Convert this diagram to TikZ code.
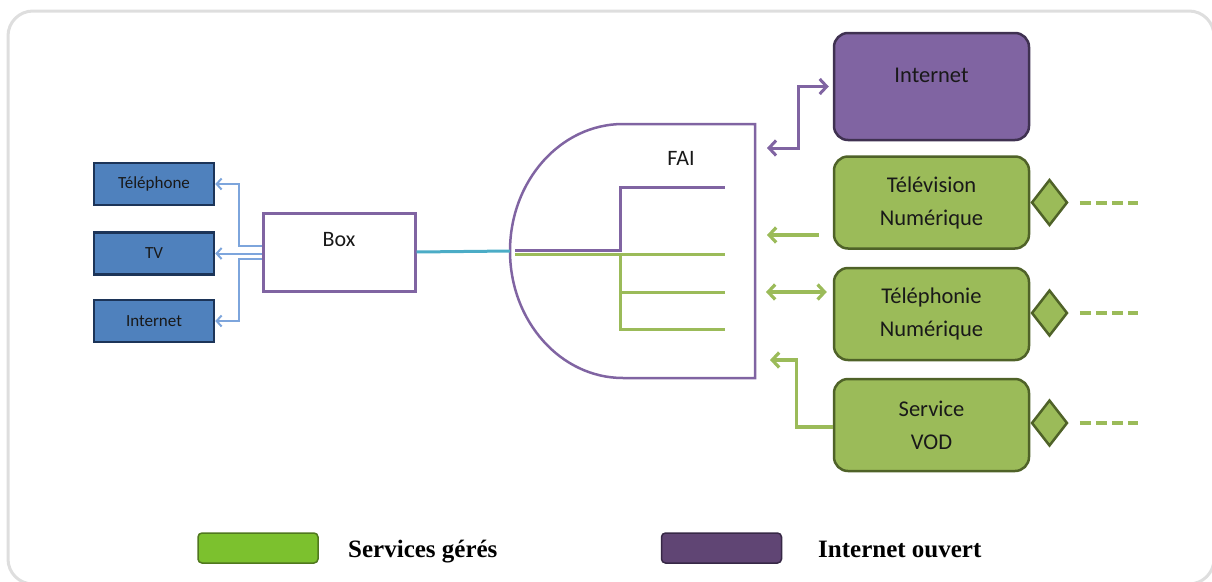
\documentclass[tikz,border=0pt]{standalone}
\usepackage{fontspec}
\setmainfont{Carlito}
\newfontfamily\legfont{Liberation Serif}
\usetikzlibrary{shapes.geometric,arrows.meta}
\definecolor{framegray}{RGB}{222,222,222}
\definecolor{bluefill}{RGB}{79,129,189}
\definecolor{navy}{RGB}{28,52,88}
\definecolor{lightblue}{RGB}{125,165,220}
\definecolor{purp}{RGB}{128,100,162}
\definecolor{purpdark}{RGB}{63,49,81}
\definecolor{cyanline}{RGB}{75,172,198}
\definecolor{gfill}{RGB}{155,187,89}
\definecolor{gdark}{RGB}{79,98,40}
\definecolor{glegend}{RGB}{124,193,46}
\definecolor{glegdark}{RGB}{80,120,30}
\definecolor{plegend}{RGB}{96,69,116}
\definecolor{plegdark}{RGB}{55,40,70}
\begin{document}
\begin{tikzpicture}[x=1pt,y=-1pt,
  bluebox/.style={draw=navy, line width=2.5pt, fill=bluefill, minimum width=120pt, minimum height=42pt, inner sep=0pt, text=black!90, font=\fontsize{17}{19}\selectfont},
  whitebox/.style={draw=purp, line width=3pt, fill=white, minimum width=152pt, minimum height=78pt, inner sep=0pt},
  greenbox/.style={draw=gdark, fill=gfill, line width=2.5pt, rounded corners=14pt, minimum width=195pt, minimum height=92pt, align=center, inner sep=0pt, text=black!90, font=\fontsize{22.5}{33}\selectfont},
  purplebox/.style={draw=purpdark, fill=purp, line width=2.5pt, rounded corners=14pt, minimum width=195pt, minimum height=107pt, inner sep=0pt},
  dia/.style={diamond, draw=gdark, fill=gfill, line width=2.5pt, minimum width=36pt, minimum height=46pt, inner sep=0pt, anchor=west},
  lbl/.style={text=black!90, font=\fontsize{22}{26}\selectfont, inner sep=0pt},
  barrow/.style={draw=lightblue, line width=2pt, -{Straight Barb[length=5pt,width=11pt]}},
  garrow/.style={draw=gfill, line width=3.2pt, -{Straight Barb[length=7pt,width=15pt]}},
  gdarrow/.style={draw=gfill, line width=3.2pt, {Straight Barb[length=7pt,width=15pt]}-{Straight Barb[length=7pt,width=15pt]}},
  pdarrow/.style={draw=purp, line width=3pt, {Straight Barb[length=7pt,width=15pt]}-{Straight Barb[length=7pt,width=15pt]}},
  dashes/.style={draw=gfill, line width=4pt, dash pattern=on 11pt off 5pt},
  legbox/.style={line width=1.5pt, rounded corners=4pt, minimum width=120pt, minimum height=30pt, inner sep=0pt},
  legtext/.style={anchor=base west, inner sep=0pt, font=\legfont\bfseries\fontsize{25}{28}\selectfont}
]
\useasboundingbox (0,0) rectangle (1212,581);
\begin{scope}
\clip (0,0) rectangle (1212,581);
\draw[line width=3pt, framegray, rounded corners=25pt] (8,11) rectangle (1214,584);
\end{scope}

% left devices
\node[bluebox] (tel) at (154,184) {Téléphone};
\node[bluebox] (tv) at (154,253.5) {TV};
\node[bluebox] (inet) at (154,321) {Internet};
\node[whitebox] (box) at (339,252) {};
\node[lbl] (boxlbl) at (339,240) {Box};

\draw[barrow] ([yshift=6pt]box.west) -- ++(-23,0) |- (tel.east);
\draw[barrow] (box.west |- tv.east) -- (tv.east);
\draw[barrow] ([yshift=-7pt]box.west) -- ++(-23,0) |- (inet.east);

% FAI shape
\coordinate (faiL) at (510,251);
\draw[draw=purp, line width=2.5pt] (623,124) -- (755,124) -- (755,378) -- (623,378)
  arc[start angle=270, end angle=90, x radius=113pt, y radius=127pt] -- cycle;
\node[lbl] (fai) at (681,158) {FAI};
\draw[draw=cyanline, line width=3pt] (box.east) -- (faiL);

% internal branches
\draw[draw=purp, line width=3pt] (515,250) -- (620,250) -- (620,187) -- (725,187);
\draw[draw=gfill, line width=3pt] (515,254) -- (725,254);
\draw[draw=gfill, line width=3pt] (620,254) -- (620,329) -- (725,329);
\draw[draw=gfill, line width=3pt] (620,292) -- (725,292);

% right boxes
\node[purplebox] (web) at (931.5,86.5) {};
\node[lbl, font=\fontsize{22.5}{26}\selectfont] (weblbl) at (931.5,75) {Internet};
\node[greenbox] (tvn) at (931.5,202.5) {Télévision\\Numérique};
\node[greenbox] (teln) at (931.5,314) {Téléphonie\\Numérique};
\node[greenbox] (vod) at (931.5,425) {Service\\VOD};

\node[dia] (d1) at (tvn.east) {};
\node[dia] (d2) at ([yshift=1pt]teln.east) {};
\node[dia] (d3) at ([yshift=2pt]vod.east) {};
\draw[dashes] ([xshift=11pt]d1.east) -- ++(58,0);
\draw[dashes] ([xshift=11pt]d2.east) -- ++(58,0);
\draw[dashes] ([xshift=11pt]d3.east) -- ++(58,0);

% right arrows
\coordinate (pend) at (767,148);
\draw[pdarrow] (pend) -- ++(31,0) |- ([xshift=-4pt]web.west);
\coordinate (g1) at (767,235);
\draw[garrow] ([shift={(-14,32.5)}]tvn.west) -- (g1);
\coordinate (g2) at (766,292);
\draw[gdarrow] (g2) -- ([shift={(-6,-22)}]teln.west);
\coordinate (g3) at (770,360);
\draw[garrow] ([yshift=-2pt]vod.west) -- ++(-36,0) |- (g3);

% legend
\node[legbox, draw=glegdark, fill=glegend] (leg1) at (258,548) {};
\node[legtext] (leg1t) at (348,557) {Services gérés};
\node[legbox, draw=plegdark, fill=plegend] (leg2) at (721.5,548) {};
\node[legtext] (leg2t) at (818,557) {Internet ouvert};
\end{tikzpicture}
\end{document}
